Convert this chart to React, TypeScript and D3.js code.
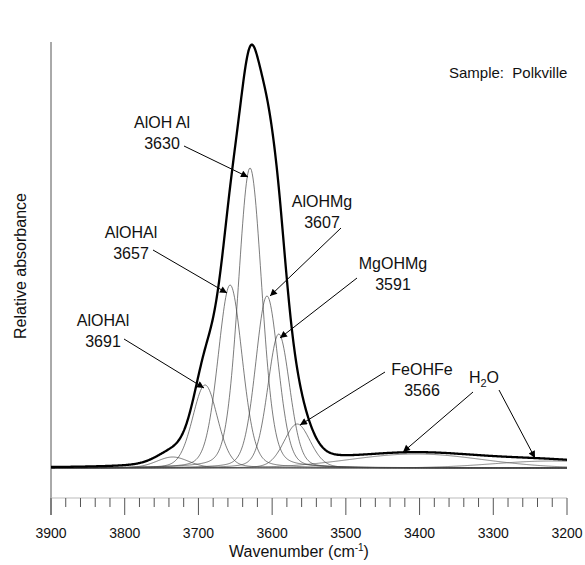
import React from "react";
import * as d3 from "d3";

// ---- data ----
const componentCenters = [3735, 3691, 3657, 3630, 3607, 3591, 3566];
const componentHeights = [0.011, 0.083, 0.183, 0.3, 0.172, 0.134, 0.044];
const componentWidths = [22, 17, 16.5, 16, 15.5, 15, 18];
const waterCenters = [3405, 3220];
const waterHeights = [0.014, 0.007];
const waterWidths = [90, 80];
const lorentzFraction = 0.2;

const majorTicks = [3900, 3800, 3700, 3600, 3500, 3400, 3300, 3200];
const bandNames = ["AlOH Al", "AlOHAl", "AlOHAl", "AlOHMg", "MgOHMg", "FeOHFe"];
const bandNumbers = ["3630", "3657", "3691", "3607", "3591", "3566"];
const sampleName = "Polkville";

// ---- layout ----
const W = 585;
const H = 565;
const labelPos = [
  [162, 128],
  [131, 238],
  [103, 326],
  [322, 207],
  [393, 269],
  [422, 375],
];
const arrowPos = [
  [184, 146, 248, 177],
  [153, 250, 227, 293],
  [124, 339, 204, 388],
  [341, 228, 270, 296],
  [357, 278, 280, 338],
  [385, 372, 300, 425],
  [473, 392, 403, 452],
  [499, 390, 535, 458],
];

const pv = (wn: number, c: number, h: number, s: number) => {
  const d = wn - c;
  const g = Math.exp(-(d * d) / (2 * s * s));
  const gam = s * 1.1774;
  const l = 1 / (1 + (d / gam) * (d / gam));
  return h * ((1 - lorentzFraction) * g + lorentzFraction * l);
};
const gauss = (wn: number, c: number, h: number, s: number) =>
  h * Math.exp(-((wn - c) * (wn - c)) / (2 * s * s));

export default function App() {
  const x = d3.scaleLinear().domain([3900, 3200]).range([51, 567]);
  const y = d3.scaleLinear().domain([0, 0.425]).range([468, 43]);
  const grid = d3.range(3900, 3199.5, -1);

  const comps = componentCenters.map((c, i) =>
    grid.map((wn) => [wn, pv(wn, c, componentHeights[i], componentWidths[i])] as [number, number])
  );
  const waters = waterCenters.map((c, i) =>
    grid.map((wn) => [wn, gauss(wn, c, waterHeights[i], waterWidths[i])] as [number, number])
  );
  const total = grid.map((wn, k) => {
    let s = 0;
    comps.forEach((cc) => (s += cc[k][1]));
    waters.forEach((cc) => (s += cc[k][1]));
    return [wn, s] as [number, number];
  });

  const line = d3
    .line<[number, number]>()
    .x((d) => x(d[0]))
    .y((d) => y(d[1]));

  const minorTicks = d3.range(3900, 3199, -20);
  const font = "'Liberation Sans', Arial, Helvetica, sans-serif";

  return (
    <svg
      width={W}
      height={H}
      style={{ position: "absolute", left: 0, top: 0, background: "#fff" }}
      fontFamily={font}
    >
      <defs>
        <marker
          id="ah"
          viewBox="0 0 10 10"
          refX="10"
          refY="5"
          markerWidth="10"
          markerHeight="7"
          markerUnits="userSpaceOnUse"
          orient="auto"
        >
          <path d="M0,0 L10,5 L0,10 z" fill="#000" />
        </marker>
      </defs>

      {/* axes */}
      <line x1={51} x2={51} y1={42} y2={515} stroke="#555" strokeWidth={1} />
      <line x1={51} x2={567} y1={498} y2={498} stroke="#bbb" strokeWidth={1} />
      {minorTicks.map((t) => (
        <line
          key={t}
          x1={x(t)}
          x2={x(t)}
          y1={498}
          y2={t % 100 === 0 ? 515 : 507}
          stroke="#555"
          strokeWidth={1}
        />
      ))}
      {majorTicks.map((t) => (
        <text key={t} x={x(t)} y={538} fontSize={14} textAnchor="middle" fill="#111">
          {t}
        </text>
      ))}
      <text x={299} y={557} fontSize={16} textAnchor="middle" fill="#111">
        Wavenumber (cm
        <tspan fontSize={10} dy={-6}>
          -1
        </tspan>
        <tspan dy={6}>)</tspan>
      </text>
      <text
        transform="translate(25.5,266) rotate(-90)"
        fontSize={16}
        textAnchor="middle"
        fill="#111"
      >
        Relative absorbance
      </text>

      {/* components */}
      {waters.map((d, i) => (
        <path key={"w" + i} d={line(d) || ""} fill="none" stroke="#666" strokeWidth={0.8} />
      ))}
      {comps.map((d, i) => (
        <path key={"c" + i} d={line(d) || ""} fill="none" stroke="#444" strokeWidth={0.7} />
      ))}
      <path d={line(total) || ""} fill="none" stroke="#000" strokeWidth={2.3} />

      {/* annotations */}
      {bandNames.map((n, i) => (
        <g key={"l" + i} fontSize={16} textAnchor="middle" fill="#111">
          <text x={labelPos[i][0]} y={labelPos[i][1]}>
            {n}
          </text>
          <text x={labelPos[i][0]} y={labelPos[i][1] + 21}>
            {bandNumbers[i]}
          </text>
        </g>
      ))}
      <text x={484} y={383} fontSize={16} textAnchor="middle" fill="#111">
        H<tspan fontSize={11} dy={4}>2</tspan>
        <tspan dy={-4}>O</tspan>
      </text>
      {arrowPos.map((a, i) => (
        <line
          key={"a" + i}
          x1={a[0]}
          y1={a[1]}
          x2={a[2]}
          y2={a[3]}
          stroke="#000"
          strokeWidth={1}
          markerEnd="url(#ah)"
        />
      ))}
      <text x={449} y={78} fontSize={15} fill="#111" style={{ whiteSpace: "pre" }}>
        {"Sample:  " + sampleName}
      </text>
    </svg>
  );
}
